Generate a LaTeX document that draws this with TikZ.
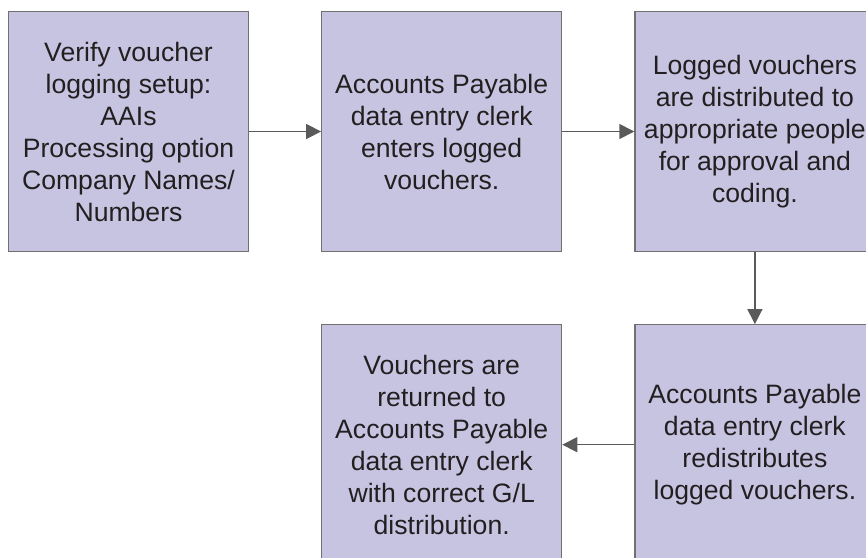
\documentclass[tikz,border=0pt]{standalone}
\usepackage{fontspec}
\setmainfont{Liberation Sans}
\usepackage{tikz}
\usetikzlibrary{positioning,arrows.meta}

\definecolor{boxfill}{HTML}{C7C4E2}
\definecolor{boxline}{HTML}{707070}
\definecolor{arrowgray}{HTML}{5A5A5A}
\definecolor{textdark}{HTML}{231F20}

\begin{document}
\begin{tikzpicture}[x=1pt, y=1pt, node distance=72pt,
                stepbox/.style={rectangle, draw=boxline, fill=boxfill, line width=1.2pt,
                  minimum width=240pt, minimum height=240pt, align=center,
                  text=textdark, font=\fontsize{26.6}{32}\selectfont},
                flow/.style={every edge/.append style={draw=arrowgray, line width=1.4pt,
                  -{Triangle[length=15pt,width=15pt]}}}]

            \useasboundingbox (0,0) rectangle (866,-557);

            % Nodes
            \node[stepbox] (verify) at (128.5,-131.5) {Verify voucher\\logging setup:\\AAIs\\Processing option\\Company Names/\\Numbers};
            \node[stepbox] (enter) [right=of verify] {Accounts Payable\\data entry clerk\\enters logged\\vouchers.};
            \node[stepbox] (distribute) [right=of enter] {Logged vouchers\\are distributed to\\appropriate people\\for approval and\\coding.};
            \node[stepbox] (redistribute) [below=of distribute] {Accounts Payable\\data entry clerk\\redistributes\\logged vouchers.};
            \node[stepbox] (returned) [left=of redistribute] {Vouchers are\\returned to\\Accounts Payable\\data entry clerk\\with correct G/L\\distribution.};

            % Edges
            \path[flow]
            (verify) edge (enter)
            (enter) edge (distribute)
            (distribute) edge (redistribute)
            (redistribute) edge (returned);

        \end{tikzpicture}
\end{document}
